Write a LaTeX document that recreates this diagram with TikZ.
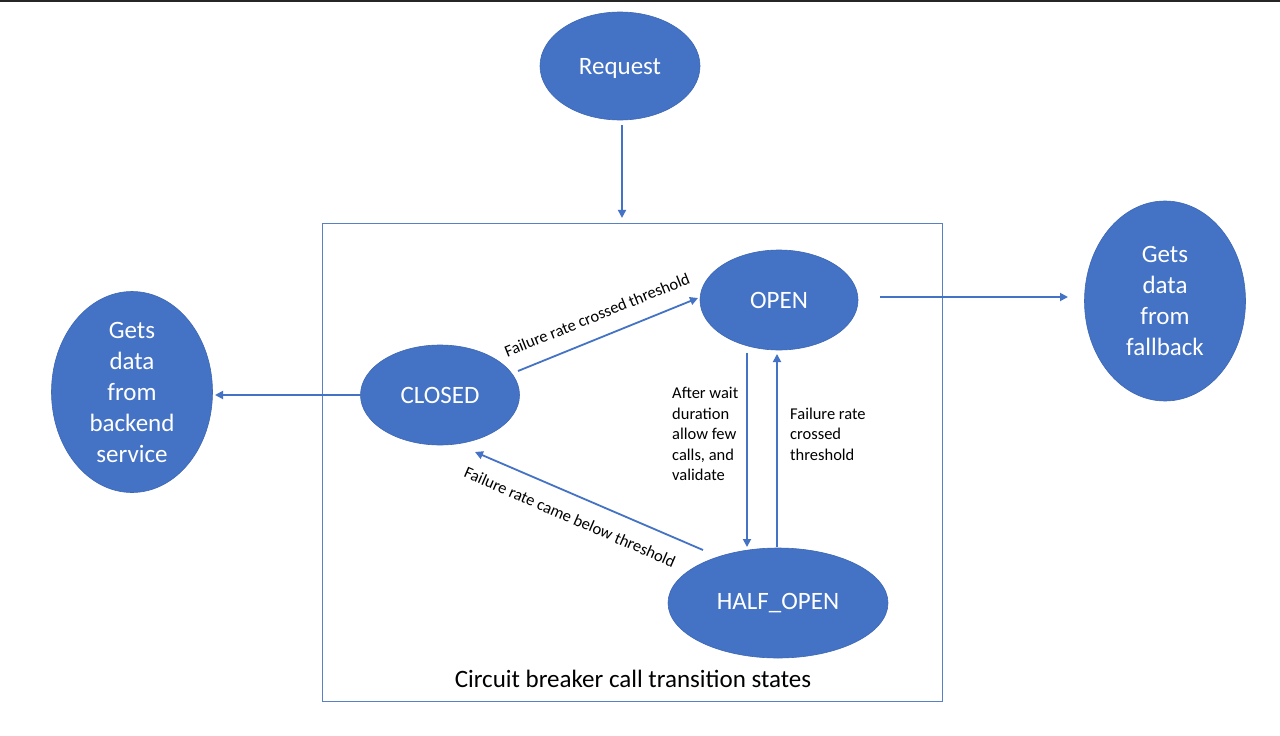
\documentclass[tikz,border=0pt]{standalone}
\usepackage{fontspec}
\setmainfont{Carlito}
\usetikzlibrary{arrows.meta,calc,shapes.geometric}
\definecolor{ofblue}{HTML}{4472C4}
\definecolor{ofedge}{HTML}{3D67B4}
\definecolor{boxblue}{HTML}{5A80C4}
\begin{document}
\begin{tikzpicture}[x=1pt,y=-1pt,
  state/.style={ellipse, fill=ofblue, draw=ofedge, line width=0.6pt, text=white,
    inner sep=0pt, font=\fontsize{25}{31}\selectfont, align=center},
  lbl/.style={inner sep=0pt, font=\fontsize{16.5}{20.5}\selectfont, text=black},
  arr/.style={draw=ofblue, line width=1.8pt, -{Triangle[length=8pt,width=8pt]}},
]
\fill[white] (0,0) rectangle (1280,736);
\useasboundingbox (0,0) rectangle (1280,736);
\fill[black!85] (0,0) rectangle (1280,2);

% container
\node[draw=boxblue, line width=1.2pt, minimum width=620pt, minimum height=478pt, inner sep=0pt] (box) at (632.5,462.5) {};
\node[inner sep=0pt, font=\fontsize{25}{30}\selectfont] (title) at (633,679) {Circuit breaker call transition states};

% states
\node[state, text depth=0pt, minimum width=160pt, minimum height=108pt] (request) at (620,66) {Request};
\node[state, minimum width=158pt, minimum height=100pt] (open) at (779,300) {OPEN};
\node[state, minimum width=159pt, minimum height=100pt] (closed) at (440,395) {CLOSED};
\node[state, minimum width=220pt, minimum height=110pt] (half) at (778,603) {HALF\_OPEN};
\node[state, inner sep=-5pt, minimum width=161pt, minimum height=201pt] (backend) at (132,392) {Gets\\data\\from\\backend\\service};
\node[state, inner sep=-5pt, minimum width=161pt, minimum height=200pt] (fallback) at (1165,301) {Gets\\data\\from\\fallback};

% connectors
\coordinate (reqtail) at ($(request)+(2,59)$);
\draw[arr, shorten >=5pt] (reqtail) -- (reqtail |- box.north);
\draw[arr] ($(closed)+(-80,0)$) -- ($(backend)+(83,3)$);
\draw[arr] ($(open)+(101,-3)$) -- ($(fallback)+(-97,-4)$);
\draw[arr] ($(closed)+(78,-24)$) -- ($(open)+(-81,-2)$);
\draw[arr] ($(open)+(-32,53)$) -- ($(half)+(-31,-56)$);
\draw[arr] ($(half)+(-1,-56)$) -- ($(open)+(-2,54)$);
\draw[arr] ($(half)+(-75,-53)$) -- ($(closed)+(35,57)$);

% labels
\node[lbl, rotate=22] (l1) at (597,315) {Failure rate crossed threshold};
\node[lbl, rotate=-23.5] (l2) at (570,517) {Failure rate came below threshold};
\node[lbl, align=left, anchor=west] (l3) at (672,434) {After wait\\duration\\allow few\\calls, and\\validate};
\node[lbl, align=left, anchor=west] (l4) at (790,434) {Failure rate\\crossed\\threshold};
\end{tikzpicture}
\end{document}
